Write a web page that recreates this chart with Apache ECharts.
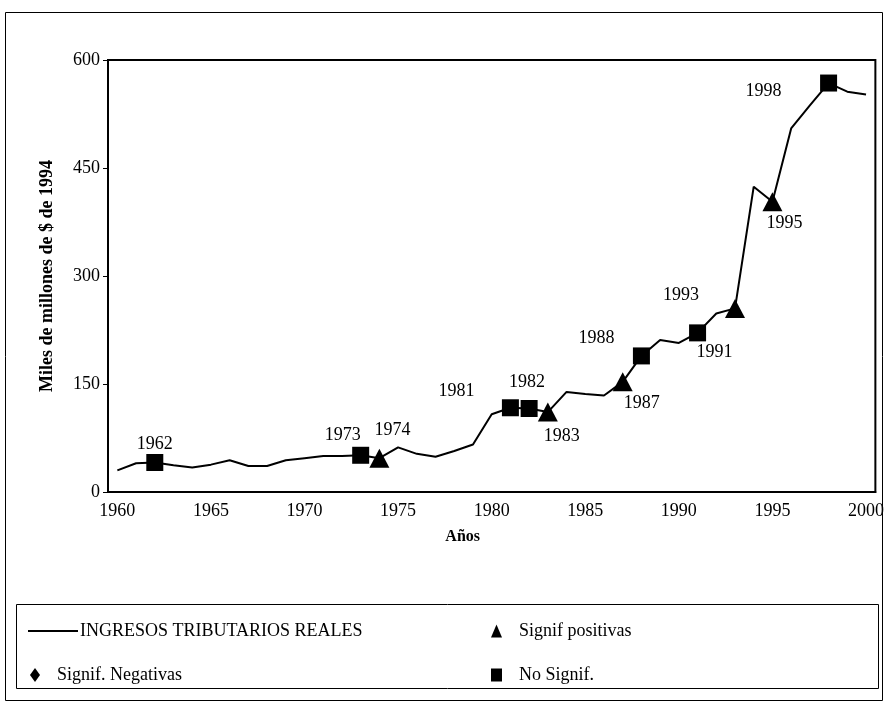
<!DOCTYPE html>
<html>
<head>
<meta charset="utf-8">
<script src="https://cdn.jsdelivr.net/npm/echarts@6/dist/echarts.min.js"></script>
<style>
  html, body { margin: 0; padding: 0; background: #fff; }
  #chart { width: 887px; height: 708px; }
</style>
</head>
<body>
<div id="chart"></div>
<script>
// años (categorias del eje x)
const years = ['1960', '1961', '1962', '1963', '1964', '1965', '1966', '1967', '1968', '1969',
  '1970', '1971', '1972', '1973', '1974', '1975', '1976', '1977', '1978', '1979',
  '1980', '1981', '1982', '1983', '1984', '1985', '1986', '1987', '1988', '1989',
  '1990', '1991', '1992', '1993', '1994', '1995', '1996', '1997', '1998', '1999', '2000'];

// ingresos tributarios reales, miles de millones de $ de 1994
const ingresos = [30, 40, 41, 37, 34, 38, 44, 36, 36, 44,
  47, 50, 50, 51, 47, 62, 53, 49, 57, 66,
  108, 117, 116, 111, 139, 136, 134, 153, 189, 211,
  207, 221, 248, 255, 424, 403, 505, 537, 568, 556, 552];

const yTicks = [0, 150, 300, 450, 600];

const positivas = ['1974', '1983', '1987', '1993', '1995'];
const negativas = [];
const noSignif = ['1962', '1973', '1981', '1982', '1988', '1991', '1998'];

// desplazamiento de cada etiqueta respecto al marcador
const labelOffset = {
  '1962': [0, -18], '1973': [-18, -20], '1974': [13, -28], '1981': [-54, -16],
  '1982': [-2, -26], '1983': [14, 24], '1987': [19, 21], '1988': [-45, -18],
  '1991': [17, 19], '1993': [-54, -13], '1995': [12, 21], '1998': [-65, 8]
};

const FONT = 'Liberation Serif, DejaVu Serif, serif';
const FS = 18;

function points(list) {
  return list.map(function (y) {
    return {
      value: [y, ingresos[years.indexOf(y)]],
      label: { offset: labelOffset[y] || [0, 0] }
    };
  });
}

const chart = echarts.init(document.getElementById('chart'));

const markLabel = {
  show: true,
  position: 'inside',
  color: '#000',
  fontFamily: FONT,
  fontSize: FS,
  formatter: function (p) { return p.value[0]; }
};

const legendText = { fontFamily: FONT, fontSize: FS, color: '#000', padding: [0, 0, 0, 12] };

chart.setOption({
  animation: false,
  textStyle: { fontFamily: FONT },
  graphic: [
    {
      type: 'rect',
      shape: { x: 5.5, y: 12.5, width: 877, height: 688 },
      style: { fill: 'none', stroke: '#000', lineWidth: 1 },
      z: -10
    },
    {
      type: 'rect',
      shape: { x: 16.5, y: 604.5, width: 862, height: 84 },
      style: { fill: 'none', stroke: '#000', lineWidth: 1 },
      z: -10
    }
  ],
  grid: {
    left: 108, right: 10, top: 60, bottom: 216,
    show: true, borderColor: '#000', borderWidth: 2
  },
  legend: [
    {
      data: ['INGRESOS TRIBUTARIOS REALES'],
      left: 28, top: 622, padding: 0, icon: 'rect', itemWidth: 50, itemHeight: 2,
      textStyle: { fontFamily: FONT, fontSize: FS, color: '#000', padding: [0, 0, 0, -3] }
    },
    {
      data: ['Signif positivas'],
      left: 491, top: 622, padding: 0, icon: 'triangle', itemWidth: 11, itemHeight: 13,
      textStyle: legendText
    },
    {
      data: ['Signif. Negativas'],
      left: 30, top: 666, padding: 0, icon: 'diamond', itemWidth: 10, itemHeight: 14,
      textStyle: legendText
    },
    {
      data: ['No Signif.'],
      left: 491, top: 666, padding: 0, icon: 'rect', itemWidth: 11, itemHeight: 13,
      textStyle: legendText
    }
  ],
  xAxis: {
    type: 'category',
    data: years,
    boundaryGap: true,
    name: 'Años',
    nameLocation: 'middle',
    nameGap: 37,
    nameTextStyle: {
      fontFamily: FONT, fontSize: 16, fontWeight: 'bold', color: '#000',
      padding: [0, 58, 0, 0]
    },
    axisLine: { lineStyle: { color: '#000', width: 2 } },
    axisTick: { interval: 0, length: 5, lineStyle: { color: '#000', width: 1 } },
    axisLabel: {
      interval: function (i, v) { return Number(v) % 5 === 0; },
      color: '#000', fontSize: FS, fontFamily: FONT, margin: 10
    },
    splitLine: { show: false }
  },
  yAxis: {
    type: 'value',
    min: yTicks[0],
    max: yTicks[yTicks.length - 1],
    interval: yTicks[1] - yTicks[0],
    name: 'Miles de millones de $ de 1994',
    nameLocation: 'middle',
    nameGap: 52,
    nameTextStyle: { fontFamily: FONT, fontSize: 18, fontWeight: 'bold', color: '#000' },
    axisLine: { show: true, lineStyle: { color: '#000', width: 2 } },
    axisTick: { show: true, length: 5, lineStyle: { color: '#000', width: 1 } },
    axisLabel: { color: '#000', fontSize: FS, fontFamily: FONT, margin: 8 },
    splitLine: { show: false }
  },
  series: [
    {
      name: 'INGRESOS TRIBUTARIOS REALES',
      type: 'line',
      data: ingresos,
      symbol: 'none',
      lineStyle: { color: '#000', width: 2 },
      itemStyle: { color: '#000' },
      z: 2
    },
    {
      name: 'Signif positivas',
      type: 'scatter',
      data: points(positivas),
      symbol: 'triangle',
      symbolSize: [20, 19],
      itemStyle: { color: '#000', opacity: 1 },
      label: markLabel,
      z: 3
    },
    {
      name: 'Signif. Negativas',
      type: 'scatter',
      data: points(negativas),
      symbol: 'diamond',
      symbolSize: [12, 18],
      itemStyle: { color: '#000', opacity: 1 },
      label: markLabel,
      z: 3
    },
    {
      name: 'No Signif.',
      type: 'scatter',
      data: points(noSignif),
      symbol: 'rect',
      symbolSize: 17,
      itemStyle: { color: '#000', opacity: 1 },
      label: markLabel,
      z: 3
    }
  ]
});
</script>
</body>
</html>
